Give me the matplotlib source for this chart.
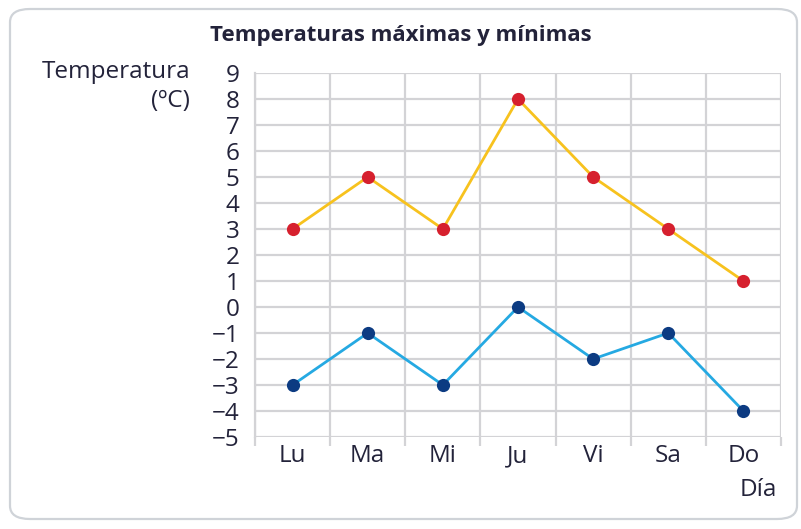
import matplotlib
matplotlib.use("Agg")
import matplotlib.pyplot as plt
from matplotlib.patches import FancyBboxPatch
import numpy as np

days = ["Lu", "Ma", "Mi", "Ju", "Vi", "Sa", "Do"]
t_max = [3, 5, 3, 8, 5, 3, 1]
t_min = [-3, -1, -3, 0, -2, -1, -4]
y_ticks = list(range(-5, 10))

plt.rcParams['font.family'] = ['Open Sans', 'DejaVu Sans']
txt = '#23233a'
grid_c = '#d3d3d6'
fs = 17.5

fig = plt.figure(figsize=(8.01, 5.29), dpi=100)
W, H = 801, 529

# rounded frame
frame = FancyBboxPatch((10 / W, 10 / H), 787 / W, 510 / H,
                       boxstyle="round,pad=0,rounding_size=0.025",
                       transform=fig.transFigure, fill=False,
                       edgecolor='#cfd3d8', linewidth=1.6)
fig.patches.append(frame)

ax = fig.add_axes([255 / W, 92 / H, 526 / W, 364 / H])
x = np.arange(len(days))
ax.set_xlim(-0.5, len(days) - 0.5)
ax.set_ylim(-5, 9)

for s in ['top', 'right', 'bottom']:
    ax.spines[s].set_visible(False)
ax.spines['left'].set_color(grid_c)
ax.spines['left'].set_linewidth(1.6)

ax.set_yticks(y_ticks)
ax.set_yticklabels([str(v).replace('-', '\u2212') for v in y_ticks],
                   fontsize=fs, color=txt)
ax.set_xticks(x)
ax.set_xticklabels(days, fontsize=fs, color=txt)
ax.set_xticks(np.arange(-0.5, len(days)), minor=True)
ax.tick_params(axis='y', length=0, pad=11)
ax.tick_params(axis='x', which='major', length=0, pad=5)
ax.tick_params(axis='x', which='minor', length=6.5, width=1.6, color=grid_c,
               direction='out')
ax.grid(True, axis='y', color=grid_c, linewidth=1.6)
ax.grid(True, axis='x', which='minor', color=grid_c, linewidth=1.6)
ax.set_axisbelow(True)

ax.plot(x, t_max, color='#f7c21e', linewidth=2.0, zorder=3)
ax.plot(x, t_max, 'o', color='#d6202e', markersize=9.5, zorder=4,
        markeredgewidth=0)
ax.plot(x, t_min, color='#25a9e2', linewidth=2.0, zorder=3)
ax.plot(x, t_min, 'o', color='#0c3b82', markersize=9.5, zorder=4,
        markeredgewidth=0)

fig.text(401 / W, 1 - 36 / H, "Temperaturas máximas y mínimas",
         ha='center', va='center', fontsize=16, fontweight='bold', color=txt)
fig.text(190 / W, 1 - 72 / H, "Temperatura", ha='right', va='center',
         fontsize=fs, color=txt)
fig.text(190 / W, 1 - 101 / H, "(ºC)", ha='right', va='center',
         fontsize=fs, color=txt)
fig.text(777 / W, 1 - 490 / H, "Día", ha='right', va='center',
         fontsize=fs, color=txt)

fig.savefig("out.png", dpi=100)
